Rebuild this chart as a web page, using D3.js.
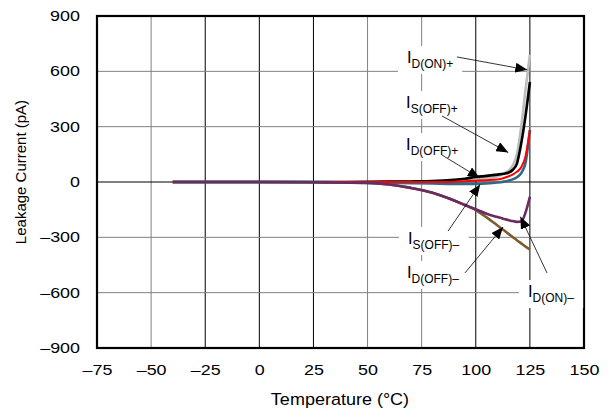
<!DOCTYPE html>
<html>
  <head>
    <meta charset="utf-8">
    <title>Leakage Current vs Temperature</title>
    <script src="https://d3js.org/d3.v7.min.js"></script>
    <style>
      body { margin: 0; background: #fff; }
      text { font-family: "Liberation Sans", Arial, sans-serif; fill: #000; }
    </style>
  </head>
  <body>
    <script>
      // data (pA vs degC)
      var temps      = [-40, -25, 0, 25, 50, 60, 70, 80, 90, 95, 100, 105, 110, 113, 115, 117, 119, 121, 123, 125];
      var idOnPlus   = [0, 0, 0, 0, 0, 1, 2, 4, 8, 11, 15, 20, 30, 45, 60, 88, 150, 300, 500, 690];
      var isOffPlus  = [0, 0, 0, 0, 1, 2, 3, 5, 12, 18, 27, 33, 40, 45, 50, 65, 100, 210, 360, 542];
      var idOffPlus  = [0, 0, 0, 0, 0, 0, 0, 0, 2, 4, 7, 10, 14, 22, 30, 40, 55, 80, 140, 282];
      var isOffMinus = [0, 0, 0, 0, -3, -4, -6, -8, -10, -10, -10, -8, -3, 2, 7, 14, 26, 48, 105, 282];
      var idOffMinus = [0, 0, 0, -1, -5, -14, -32, -58, -100, -125, -152, -192, -236, -262, -280, -298, -316, -333, -350, -365];
      var idOnMinus  = [0, 0, 0, -1, -5, -14, -32, -58, -100, -125, -148, -172, -190, -200, -206, -212, -216, -214, -165, -80];

      var xTicks = [-75, -50, -25, 0, 25, 50, 75, 100, 125, 150];
      var yTicks = [-900, -600, -300, 0, 300, 600, 900];

      // callouts: label anchor and arrow, in data units
      var labelNames = ["D(ON)+", "S(OFF)+", "D(OFF)+", "S(OFF)–", "D(OFF)–", "D(ON)–"];
      var labelAt    = [[68.2, 645], [67.8, 401], [67.8, 173], [68.7, -336], [68.2, -520], [124.1, -624]];
      var arrowFrom  = [[91.3, 678], [84.4, 358], [84.4, 146], [87.2, -266], [95.0, -493], [132.9, -493]];
      var arrowTo    = [[123.8, 608], [115.0, 160], [101.8, 22], [102.0, -13], [112.6, -244], [120.6, -188]];

      var W = 610, H = 412;
      var svg = d3.select("body").append("svg")
        .attr("width", W)
        .attr("height", H);

      var x = d3.scaleLinear().domain([-75, 150]).range([97, 584]);
      var y = d3.scaleLinear().domain([-900, 900]).range([348, 16]);

      var fmt = function(d) { return String(d).replace("-", "–"); };
      var sx = 1.28;

      // grid
      var darkX = [-25, 0, 25, 100, 125];
      svg.append("g").selectAll("line")
        .data(xTicks.slice(1, -1))
        .enter().append("line")
          .attr("x1", function(d) { return x(d); })
          .attr("x2", function(d) { return x(d); })
          .attr("y1", y(900)).attr("y2", y(-900))
          .attr("stroke", function(d) { return darkX.indexOf(d) >= 0 ? "#000" : "#808080"; })
          .attr("stroke-width", 1);
      svg.append("g").selectAll("line")
        .data(yTicks.slice(1, -1))
        .enter().append("line")
          .attr("y1", function(d) { return y(d); })
          .attr("y2", function(d) { return y(d); })
          .attr("x1", x(-75)).attr("x2", x(150))
          .attr("stroke", function(d) { return d === 0 ? "#000" : "#808080"; })
          .attr("stroke-width", 1);

      // frame
      svg.append("rect")
        .attr("x", x(-75)).attr("y", y(900))
        .attr("width", x(150) - x(-75)).attr("height", y(-900) - y(900))
        .attr("fill", "none").attr("stroke", "#000").attr("stroke-width", 2.2);

      // axes
      var xAxis = svg.append("g")
        .attr("transform", "translate(0," + y(-900) + ")")
        .call(d3.axisBottom(x).tickValues(xTicks).tickFormat(fmt).tickSize(0).tickPadding(17));
      var yAxis = svg.append("g")
        .attr("transform", "translate(" + x(-75) + ",0)")
        .call(d3.axisLeft(y).tickValues(yTicks).tickFormat(fmt).tickSize(0));
      [xAxis, yAxis].forEach(function(a) {
        a.select(".domain").remove();
        a.selectAll("text")
          .style("font-size", "14px")
          .attr("fill", "#000")
          .attr("transform", "scale(" + sx + ",1)");
      });
      yAxis.selectAll("text").attr("x", -17 / sx);

      svg.append("text")
        .attr("transform", "translate(340,405) scale(1.06,1)")
        .attr("text-anchor", "middle")
        .style("font-size", "17px")
        .text("Temperature (°C)");
      svg.append("text")
        .attr("transform", "translate(26,172) rotate(-90)")
        .attr("text-anchor", "middle")
        .style("font-size", "15px")
        .text("Leakage Current (pA)");

      // curves
      var series = [
        { v: idOffMinus, c: "#7a5c30" },
        { v: idOnPlus,   c: "#bdbdbd" },
        { v: isOffPlus,  c: "#000000" },
        { v: isOffMinus, c: "#2f6b88" },
        { v: idOffPlus,  c: "#ff0000" },
        { v: idOnMinus,  c: "#6c2a63" }
      ];
      var line = d3.line()
        .x(function(d) { return x(d[0]); })
        .y(function(d) { return y(d[1]); })
        .curve(d3.curveMonotoneX);

      svg.append("g").selectAll("path")
        .data(series)
        .enter().append("path")
          .attr("d", function(s) { return line(d3.zip(temps, s.v)); })
          .attr("fill", "none")
          .attr("stroke", function(s) { return s.c; })
          .attr("stroke-width", function(s) { return s.c === "#ff0000" ? 2 : 2.6; })
          .attr("stroke-linejoin", "round");

      // callouts
      svg.append("defs").append("marker")
        .attr("id", "head")
        .attr("markerUnits", "userSpaceOnUse")
        .attr("markerWidth", 13).attr("markerHeight", 10)
        .attr("refX", 12).attr("refY", 5)
        .attr("orient", "auto")
        .append("path")
          .attr("d", "M0,0 L12,5 L0,10 Z")
          .attr("fill", "#000");

      var labels = svg.append("g");
      labelNames.forEach(function(name, i) {
        var g = labels.append("g");
        var t = g.append("text")
          .attr("x", x(labelAt[i][0]))
          .attr("y", y(labelAt[i][1]));
        t.append("tspan").style("font-size", "16.5px").text("I");
        t.append("tspan").style("font-size", "12px").attr("dy", 5).text(name);
        var b = t.node().getBBox();
        g.insert("rect", "text")
          .attr("x", b.x - 9).attr("y", b.y - 2)
          .attr("width", b.width + 18).attr("height", b.height + 5)
          .attr("fill", "#fff");
      });

      svg.append("g").selectAll("line")
        .data(d3.range(labelNames.length))
        .enter().append("line")
          .attr("x1", function(i) { return x(arrowFrom[i][0]); })
          .attr("y1", function(i) { return y(arrowFrom[i][1]); })
          .attr("x2", function(i) { return x(arrowTo[i][0]); })
          .attr("y2", function(i) { return y(arrowTo[i][1]); })
          .attr("stroke", "#000")
          .attr("stroke-width", 0.8)
          .attr("marker-end", "url(#head)");
    </script>
  </body>
</html>
